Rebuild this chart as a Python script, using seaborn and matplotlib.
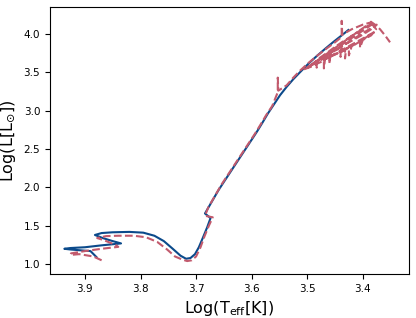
import numpy as np
import pandas as pd
import matplotlib
matplotlib.use("Agg")
import matplotlib.pyplot as plt
import seaborn as sns

# track 1 (solid)
logt_a = [3.879, 3.890, 3.925, 3.937, 3.926, 3.900, 3.870, 3.835, 3.850, 3.868,
          3.882, 3.870, 3.850, 3.820, 3.795, 3.775, 3.758, 3.742, 3.728, 3.718,
          3.710, 3.702, 3.695, 3.688, 3.680, 3.674, 3.684, 3.676, 3.668, 3.660,
          3.651, 3.641, 3.631, 3.621, 3.611, 3.601, 3.591, 3.580, 3.571, 3.560,
          3.549, 3.537, 3.525, 3.513, 3.498, 3.483, 3.467, 3.452, 3.438, 3.426]
logl_a = [1.09, 1.17, 1.19, 1.20, 1.21, 1.22, 1.245, 1.27, 1.30, 1.34,
          1.38, 1.405, 1.415, 1.42, 1.41, 1.37, 1.30, 1.20, 1.11, 1.07,
          1.08, 1.13, 1.22, 1.34, 1.48, 1.60, 1.66, 1.76, 1.86, 1.96,
          2.06, 2.17, 2.28, 2.39, 2.50, 2.61, 2.72, 2.85, 2.96, 3.08,
          3.20, 3.31, 3.41, 3.50, 3.61, 3.71, 3.81, 3.90, 3.98, 4.05]

# track 2 (dashed)
logt_b = [3.870, 3.885, 3.910, 3.926, 3.925, 3.900, 3.870, 3.840, 3.845, 3.865,
          3.878, 3.862, 3.840, 3.812, 3.790, 3.770, 3.752, 3.738, 3.725, 3.716,
          3.708, 3.700, 3.692, 3.685, 3.677, 3.670, 3.684, 3.678, 3.670, 3.662,
          3.654, 3.644, 3.634, 3.624, 3.614, 3.604, 3.594, 3.583, 3.574, 3.563,
          3.553, 3.553, 3.552, 3.537, 3.525, 3.513,
          3.498, 3.483, 3.465, 3.450, 3.438, 3.438, 3.437, 3.420, 3.400, 3.385,
          3.500, 3.485, 3.483, 3.483, 3.465, 3.450, 3.440, 3.425, 3.410, 3.392, 3.380,
          3.495, 3.475, 3.460, 3.460, 3.458, 3.440, 3.440, 3.438, 3.420, 3.400, 3.385, 3.375,
          3.505, 3.490, 3.483, 3.470, 3.470, 3.468, 3.450, 3.432, 3.432, 3.430, 3.412, 3.395, 3.380,
          3.470, 3.455, 3.435, 3.425, 3.425, 3.420, 3.405, 3.405, 3.400, 3.385, 3.376, 3.387,
          3.378, 3.369, 3.360, 3.351]
logl_b = [1.05, 1.10, 1.13, 1.12, 1.14, 1.17, 1.20, 1.225, 1.25, 1.31,
          1.34, 1.365, 1.37, 1.37, 1.35, 1.29, 1.19, 1.10, 1.06, 1.04,
          1.05, 1.10, 1.22, 1.36, 1.50, 1.61, 1.63, 1.74, 1.84, 1.94,
          2.04, 2.15, 2.26, 2.37, 2.48, 2.59, 2.70, 2.83, 2.94, 3.06,
          3.24, 3.43, 3.26, 3.33, 3.43, 3.52,
          3.62, 3.71, 3.81, 3.89, 3.96, 4.17, 3.99, 4.06, 4.12, 4.15,
          3.56, 3.64, 3.56, 3.66, 3.75, 3.83, 3.88, 3.95, 4.02, 4.10, 4.14,
          3.58, 3.66, 3.73, 3.61, 3.75, 3.82, 3.70, 3.84, 3.91, 3.99, 4.06, 4.12,
          3.54, 3.58, 3.61, 3.65, 3.55, 3.67, 3.73, 3.79, 3.68, 3.81, 3.87, 3.95, 4.02,
          3.66, 3.72, 3.78, 3.82, 3.72, 3.84, 3.90, 3.82, 3.92, 3.98, 4.06, 4.165,
          4.12, 4.06, 3.98, 3.89]

df_a = pd.DataFrame({"logt": logt_a, "logl": logl_a})
df_b = pd.DataFrame({"logt": logt_b, "logl": logl_b})

fig = plt.figure(figsize=(4.16, 3.18), dpi=100)
ax = fig.add_axes([0.12, 0.138, 0.863, 0.84])

sns.lineplot(data=df_a, x="logt", y="logl", sort=False, estimator=None,
             color="#0b4a8b", linewidth=1.5, ax=ax)
sns.lineplot(data=df_b, x="logt", y="logl", sort=False, estimator=None,
             color="#c25a6d", linewidth=1.5, linestyle="--", ax=ax)

ax.set_xlim(3.963, 3.317)
ax.set_ylim(0.87, 4.35)
ax.set_xticks([3.9, 3.8, 3.7, 3.6, 3.5, 3.4])
ax.set_yticks([1.0, 1.5, 2.0, 2.5, 3.0, 3.5, 4.0])
ax.tick_params(labelsize=7.5)
ax.set_xlabel(r"Log(T$_{\rm eff}$[K])", fontsize=11.5)
ax.set_ylabel(r"Log(L[L$_{\odot}$])", fontsize=11.5)

plt.savefig("out.png", dpi=100)
plt.close()
